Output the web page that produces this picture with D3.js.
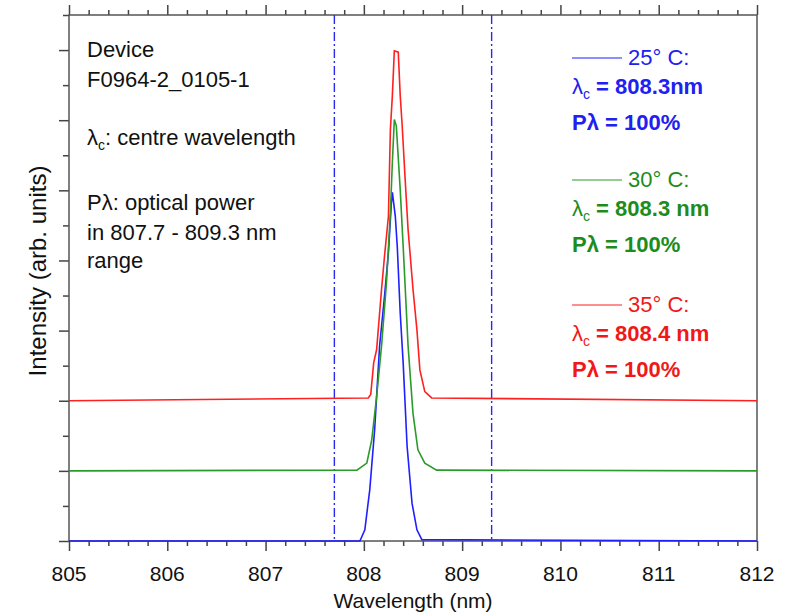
<!DOCTYPE html>
<html>
<head>
<meta charset="utf-8">
<script src="https://cdn.jsdelivr.net/npm/d3@7.9.0/dist/d3.min.js"></script>
<style>
  body { margin: 0; background: #fff; }
  svg { display: block; font-family: "Liberation Sans", Arial, sans-serif; }
</style>
</head>
<body>
<svg width="791" height="616"></svg>
<script>
// spectra (intensity above each curve's own baseline)
const blueWl = [805, 807.96, 808.01, 808.06, 808.11, 808.16, 808.21, 808.25, 808.28, 808.29, 808.32, 808.34, 808.37, 808.40, 808.44, 808.49, 808.54, 808.59, 812];
const blueI = [0, 0, 0.16, 0.73, 1.59, 2.78, 3.49, 4.11, 4.82, 4.97, 4.63, 4.20, 3.25, 2.54, 1.35, 0.54, 0.16, 0.02, 0];

const greenWl = [805, 807.93, 808.03, 808.08, 808.13, 808.18, 808.23, 808.27, 808.29, 808.31, 808.33, 808.37, 808.40, 808.45, 808.50, 808.55, 808.62, 808.74, 812];
const greenI = [0, 0.01, 0.11, 0.44, 1.06, 1.78, 2.68, 3.68, 4.40, 5.01, 4.92, 4.01, 3.20, 1.78, 0.82, 0.30, 0.11, 0.01, 0];

const redWl = [805, 808.045, 808.07, 808.10, 808.13, 808.18, 808.21, 808.25, 808.27, 808.29, 808.31, 808.35, 808.37, 808.39, 808.42, 808.45, 808.50, 808.54, 808.57, 808.62, 808.69, 812];
const redI = [0, 0.04, 0.09, 0.54, 0.73, 1.59, 2.06, 2.63, 3.87, 4.35, 4.99, 4.97, 4.35, 3.92, 3.16, 2.44, 1.59, 1.01, 0.44, 0.13, 0.04, 0];

const temps = ['25° C:', '30° C:', '35° C:'];
const offsets = [0, 1, 2];
const centreWl = ['808.3nm', '808.3 nm', '808.4 nm'];
const powerPct = ['100%', '100%', '100%'];
const rangeLines = [807.7, 809.3];
const xTickLabels = [805, 806, 807, 808, 809, 810, 811, 812];

const series = [
  { wl: blueWl, I: blueI, color: '#1f1fff', text: '#2020f0' },
  { wl: greenWl, I: greenI, color: '#2a9a2a', text: '#1c8c1c' },
  { wl: redWl, I: redI, color: '#ff2020', text: '#f01818' }
];

const svg = d3.select('svg');
const L = 69, R = 757, T = 15, B = 541;
const x = d3.scaleLinear().domain([805, 812]).range([L, R]);
const y = d3.scaleLinear().domain([0, 7.5]).range([B, T]);

// ticks
const minorX = d3.range(805, 812.01, 0.2).map(v => +v.toFixed(1));
const isMajor = v => Math.abs(v - Math.round(v)) < 1e-6;

const bottomAxis = d3.axisBottom(x).tickValues(minorX).tickFormat('').tickSizeOuter(0);
const gb = svg.append('g').attr('transform', `translate(0,${B})`).call(bottomAxis);
gb.selectAll('.tick line').attr('y2', d => isMajor(d) ? 10 : 5);

const topAxis = d3.axisTop(x).tickValues(minorX).tickFormat('').tickSizeOuter(0);
const gt = svg.append('g').attr('transform', `translate(0,${T})`).call(topAxis);
gt.selectAll('.tick line').attr('y2', d => isMajor(d) ? -10 : -5);

const yVals = d3.range(0, 7.51, 0.5);
const leftAxis = d3.axisLeft(y).tickValues(yVals).tickFormat('').tickSizeOuter(0);
const gl = svg.append('g').attr('transform', `translate(${L},0)`).call(leftAxis);
gl.selectAll('.tick line').attr('x2', d => isMajor(d) ? -10 : -6);

svg.selectAll('.domain').remove();
svg.selectAll('.tick line').attr('stroke', '#444').attr('stroke-width', 1.5);

svg.append('rect').attr('x', L).attr('y', T).attr('width', R - L).attr('height', B - T)
  .attr('fill', 'none').attr('stroke', '#555').attr('stroke-width', 1.5);

svg.append('g').selectAll('text').data(xTickLabels).join('text')
  .attr('x', d => x(d)).attr('y', 581).attr('text-anchor', 'middle')
  .attr('font-size', 21).attr('fill', '#111').text(d => d);

svg.append('text').attr('x', (L + R) / 2).attr('y', 608).attr('text-anchor', 'middle')
  .attr('font-size', 21).attr('fill', '#111').text('Wavelength (nm)');

svg.append('text').attr('transform', 'translate(46,271) rotate(-90)').attr('text-anchor', 'middle')
  .attr('font-size', 24).attr('fill', '#111').text('Intensity (arb. units)');

// range markers
svg.append('g').selectAll('line').data(rangeLines).join('line')
  .attr('x1', d => x(d)).attr('x2', d => x(d)).attr('y1', T).attr('y2', B)
  .attr('stroke', '#2a2aee').attr('stroke-width', 1.4).attr('stroke-dasharray', '9,3,2,3');

// curves
const line = d3.line().x(d => x(d[0])).y(d => y(d[1]));
series.forEach((s, i) => {
  const pts = s.wl.map((w, k) => [w, s.I[k] + offsets[i]]);
  svg.append('path').datum(pts).attr('d', line)
    .attr('fill', 'none').attr('stroke', s.color).attr('stroke-width', 1.6);
});

// left notes
const notes = svg.append('g').attr('font-size', 22).attr('fill', '#111');
notes.append('text').attr('x', 87).attr('y', 57).text('Device');
notes.append('text').attr('x', 87).attr('y', 87).text('F0964-2_0105-1');
const lc = notes.append('text').attr('x', 87).attr('y', 145);
lc.append('tspan').text('λ');
lc.append('tspan').attr('font-size', 14).attr('dy', 5).text('c');
lc.append('tspan').attr('dy', -5).text(': centre wavelength');
notes.append('text').attr('x', 87).attr('y', 210).text('Pλ: optical power');
notes.append('text').attr('x', 87).attr('y', 240).text('in 807.7 - 809.3 nm');
notes.append('text').attr('x', 87).attr('y', 268).text('range');

// legend blocks
const legendTop = [65, 187, 312];
series.forEach((s, i) => {
  const g = svg.append('g').attr('fill', s.text).attr('font-size', 22);
  const b = legendTop[i];
  g.append('line').attr('x1', 572).attr('x2', 622).attr('y1', b - 7).attr('y2', b - 7)
    .attr('stroke', s.color).attr('stroke-width', 1.2);
  g.append('text').attr('x', 628).attr('y', b).text(temps[i]);
  const t = g.append('text').attr('x', 572).attr('y', b + 29).attr('font-weight', 'bold');
  t.append('tspan').attr('font-weight', 'normal').text('λ');
  t.append('tspan').attr('font-size', 14).attr('font-weight', 'normal').attr('dy', 5).text('c');
  t.append('tspan').attr('dy', -5).text(' = ' + centreWl[i]);
  g.append('text').attr('x', 572).attr('y', b + 65).attr('font-weight', 'bold').text('Pλ = ' + powerPct[i]);
});
</script>
</body>
</html>
